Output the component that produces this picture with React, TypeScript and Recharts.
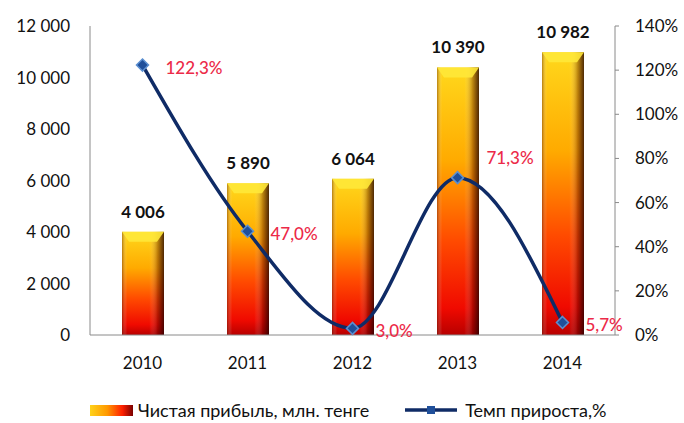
import { ComposedChart, Bar, Line, XAxis, YAxis, Legend, LabelList } from 'recharts'

const years = ['2010', '2011', '2012', '2013', '2014']
const profit = [4006, 5890, 6064, 10390, 10982]
const growth = [122.3, 47.0, 3.0, 71.3, 5.7]
const leftTicks = [0, 2000, 4000, 6000, 8000, 10000, 12000]
const rightTicks = [0, 20, 40, 60, 80, 100, 120, 140]

const data = years.map((year, i) => ({ year, profit: profit[i], growth: growth[i] }))

const FONT = 'Lato, "Open Sans", sans-serif'
const LINE = '#0f2b66'
const RED = '#ec2a48'

const fmtNum = (v: number) => String(v).replace(/\B(?=(\d{3})+(?!\d))/g, ' ')
const fmtPct = (v: number) => v.toFixed(1).replace('.', ',') + '%'

const BarShape = (props: any) => {
  const { x, y, width, height } = props
  if (!height) return null
  const bevel = Math.min(10, height / 3)
  return (
    <g>
      <rect x={x} y={y} width={width} height={height} fill='url(#barV)' />
      <rect x={x} y={y} width={width} height={height} fill='url(#barH)' />
      <polygon
        points={`${x},${y} ${x + width},${y} ${x + width - 7},${y + bevel} ${x + 7},${y + bevel}`}
        fill='#ffe838'
        opacity={0.9}
      />
    </g>
  )
}

const Diamond = (props: any) => {
  const { cx, cy, index } = props
  if (cx == null || cy == null) return <g key={index} />
  const r = 6
  return (
    <polygon
      key={index}
      points={`${cx},${cy - r} ${cx + r},${cy} ${cx},${cy + r} ${cx - r},${cy}`}
      fill='#1f4f9a'
      stroke='#5b8fd0'
      strokeWidth={1.5}
    />
  )
}

const ValueLabel = (props: any) => {
  const { x, y, width, value } = props
  return (
    <text
      x={x + width / 2}
      y={y - 14}
      textAnchor='middle'
      fill='#111'
      fontSize={17}
      fontWeight={700}
      fontFamily={FONT}
    >
      {fmtNum(value)}
    </text>
  )
}

const PctLabel = (props: any) => {
  const { x, y, value, index } = props
  // local peaks get their label above-right, the rest sit to the right of the point
  const peak = index > 0 && index < growth.length - 1 && growth[index] > growth[index - 1] && growth[index] > growth[index + 1]
  const dx = peak ? 29 : 23
  const dy = peak ? -14 : 9
  return (
    <text x={x + dx} y={y + dy} fill={RED} fontSize={17} fontWeight={500} fontFamily={FONT}>
      {fmtPct(value)}
    </text>
  )
}

const LegendContent = () => (
  <div
    style={{
      height: 58,
      display: 'flex',
      alignItems: 'flex-end',
      justifyContent: 'flex-start',
      fontFamily: FONT,
      fontSize: 18,
      color: '#111',
      paddingLeft: 90,
      boxSizing: 'border-box',
    }}
  >
    <div style={{ display: 'flex', alignItems: 'center', paddingBottom: 2 }}>
      <svg width={46} height={14}>
        <defs>
          <linearGradient id='legBar' x1='0' y1='0' x2='1' y2='0'>
            <stop offset='0%' stopColor='#ffd21a' />
            <stop offset='40%' stopColor='#ff9900' />
            <stop offset='75%' stopColor='#ff2000' />
            <stop offset='100%' stopColor='#7a0000' />
          </linearGradient>
        </defs>
        <rect x={0} y={2} width={43} height={11} fill='url(#legBar)' />
      </svg>
      <span style={{ marginLeft: 2 }}>Чистая прибыль, млн. тенге</span>
      <svg width={56} height={14} style={{ marginLeft: 36 }}>
        <line x1={0} y1={7} x2={52} y2={7} stroke={LINE} strokeWidth={3.5} />
        <rect x={22} y={3} width={8} height={8} fill='#1f4f9a' />
      </svg>
      <span style={{ marginLeft: 4 }}>Темп прироста,%</span>
    </div>
  </div>
)

export default function App() {
  return (
    <div style={{ position: 'absolute', left: 0, top: 0, background: '#fff' }}>
      <ComposedChart
        width={684}
        height={423}
        data={data}
        margin={{ top: 26, right: 0, left: 0, bottom: 0 }}
        barSize={42}
      >
        <defs>
          <linearGradient id='barV' x1='0' y1='0' x2='0' y2='1'>
            <stop offset='0%' stopColor='#ffd81c' />
            <stop offset='35%' stopColor='#ffaa00' />
            <stop offset='65%' stopColor='#ff4a00' />
            <stop offset='90%' stopColor='#f00a00' />
            <stop offset='100%' stopColor='#b80000' />
          </linearGradient>
          <linearGradient id='barH' x1='0' y1='0' x2='1' y2='0'>
            <stop offset='0%' stopColor='#5a1a00' stopOpacity={0.45} />
            <stop offset='12%' stopColor='#ffffff' stopOpacity={0} />
            <stop offset='65%' stopColor='#ffffff' stopOpacity={0} />
            <stop offset='85%' stopColor='#400000' stopOpacity={0.35} />
            <stop offset='100%' stopColor='#200000' stopOpacity={0.8} />
          </linearGradient>
        </defs>
        <XAxis
          dataKey='year'
          height={30}
          tickLine={false}
          tickSize={0}
          tickMargin={22}
          stroke='#8a8a8a'
          tick={{ fill: '#111', fontSize: 17, fontFamily: FONT }}
        />
        <YAxis
          yAxisId='left'
          width={90}
          domain={[0, 12000]}
          ticks={leftTicks}
          tickFormatter={fmtNum}
          tickLine={false}
          tickSize={0}
          tickMargin={20}
          stroke='#8a8a8a'
          tick={{ fill: '#111', fontSize: 17, fontFamily: FONT }}
          interval={0}
        />
        <YAxis
          yAxisId='right'
          orientation='right'
          width={69}
          domain={[0, 140]}
          ticks={rightTicks}
          tickFormatter={(v: number) => `${v}%`}
          tickSize={4}
          tickMargin={16}
          stroke='#8a8a8a'
          tick={{ fill: '#111', fontSize: 17, fontFamily: FONT }}
          interval={0}
        />
        <Legend verticalAlign='bottom' height={58} content={<LegendContent />} />
        <Bar yAxisId='left' dataKey='profit' shape={<BarShape />} isAnimationActive={false} legendType='rect'>
          <LabelList dataKey='profit' content={ValueLabel} />
        </Bar>
        <Line
          yAxisId='right'
          type='monotone'
          dataKey='growth'
          stroke={LINE}
          strokeWidth={3.5}
          dot={Diamond}
          activeDot={false}
          isAnimationActive={false}
        >
          <LabelList dataKey='growth' content={PctLabel} />
        </Line>
      </ComposedChart>
    </div>
  )
}
